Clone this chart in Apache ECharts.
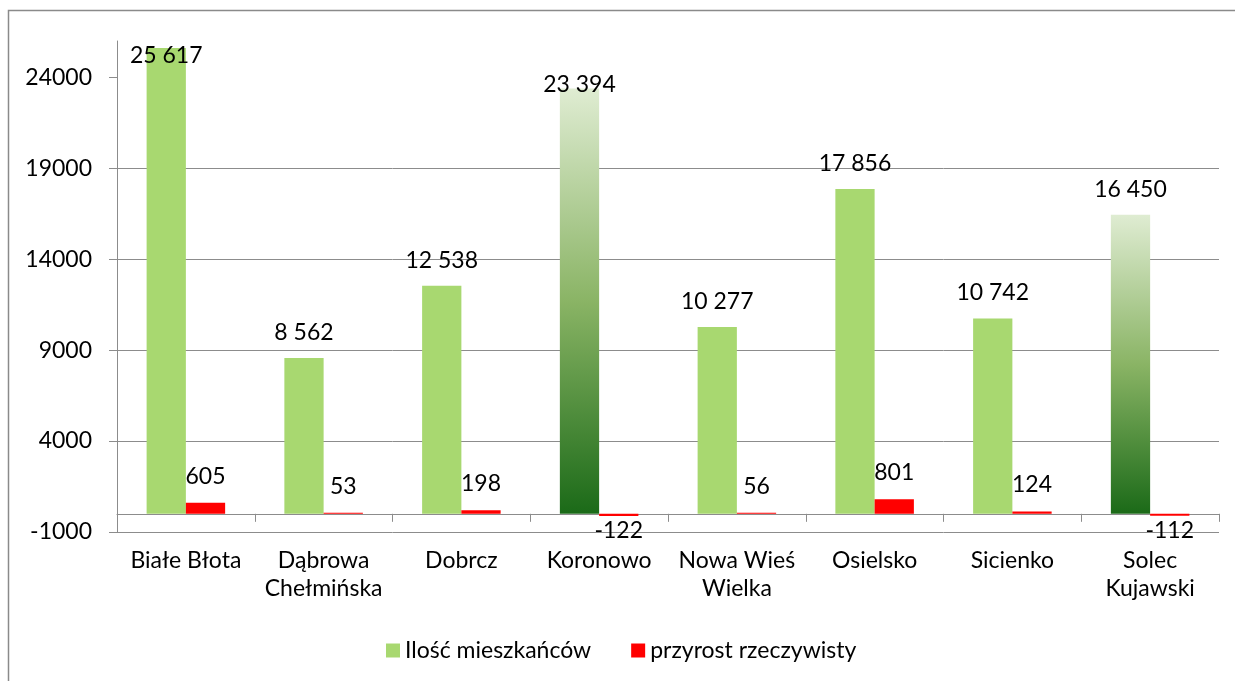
<!DOCTYPE html>
<html>
<head>
<meta charset="utf-8">
<script src="https://cdn.jsdelivr.net/npm/echarts@6/dist/echarts.min.js"></script>
<style>
  html, body { margin: 0; padding: 0; background: #fff; }
  #chart { width: 1235px; height: 681px; }
</style>
</head>
<body>
<div id="chart"></div>
<script>
// Gminy: population and natural increase
const categories = ['Białe Błota', 'Dąbrowa\nChełmińska', 'Dobrcz', 'Koronowo', 'Nowa Wieś\nWielka', 'Osielsko', 'Sicienko', 'Solec\nKujawski'];
const residents = [25617, 8562, 12538, 23394, 10277, 17856, 10742, 16450];
const naturalIncrease = [605, 53, 198, -122, 56, 801, 124, -112];
const yTicks = [-1000, 4000, 9000, 14000, 19000, 24000];
const seriesNames = ['Ilość mieszkańców', 'przyrost rzeczywisty'];

// Bars drawn with a vertical light-to-dark green fill
const gradientBars = ['Koronowo', 'Solec\nKujawski'];
// Labels that sit near the top edge of the plot
const labelTweaks = {
  'Białe Błota': { position: 'insideTop', distance: -4 },
  'Koronowo': { position: 'top', distance: -8 }
};

const FONT = 'Lato';
const FS = 23;
const GREEN = '#A8D870';
const RED = '#FF0000';
const AXIS = '#8c8c8c';

const fmt = v => String(v).replace(/\B(?=(\d{3})+(?!\d))/g, ' ');

const greenData = residents.map((v, i) => {
  const item = { value: v };
  if (gradientBars.includes(categories[i])) {
    item.itemStyle = {
      color: new echarts.graphic.LinearGradient(0, 0, 0, 1, [
        { offset: 0, color: '#DFECD2' },
        { offset: 0.5, color: '#8AB465' },
        { offset: 1, color: '#1B6A18' }
      ])
    };
  }
  if (labelTweaks[categories[i]]) item.label = labelTweaks[categories[i]];
  return item;
});

const redData = naturalIncrease.map(v => ({
  value: v,
  label: v < 0 ? { position: 'bottom', distance: 3 } : { position: 'top', distance: 15 }
}));

const chart = echarts.init(document.getElementById('chart'), null, { renderer: 'canvas' });
chart.setOption({
  animation: false,
  backgroundColor: '#fff',
  textStyle: { fontFamily: FONT },
  graphic: [{
    type: 'rect',
    shape: { x: 8.5, y: 10.5, width: 1400, height: 900 },
    style: { fill: 'none', stroke: '#8a8a8a', lineWidth: 1.5 },
    silent: true
  }],
  grid: { left: 117, right: 16, top: 41, bottom: 149 },
  legend: {
    data: seriesNames,
    left: 381,
    top: 634,
    icon: 'rect',
    itemWidth: 14,
    itemHeight: 14,
    itemGap: 40,
    textStyle: { fontFamily: FONT, fontSize: FS, color: '#000' }
  },
  xAxis: {
    type: 'category',
    data: categories,
    axisLine: { onZero: true, lineStyle: { color: AXIS, width: 1 } },
    axisTick: { show: true, length: 8, lineStyle: { color: AXIS } },
    axisLabel: {
      interval: 0,
      margin: 15,
      color: '#000',
      fontFamily: FONT,
      fontSize: FS,
      lineHeight: 28
    }
  },
  yAxis: {
    type: 'value',
    min: -1000,
    max: 26000,
    interval: 5000,
    axisLine: { show: true, lineStyle: { color: AXIS, width: 1 } },
    axisTick: { show: true, length: 8, customValues: yTicks, lineStyle: { color: AXIS } },
    axisLabel: {
      customValues: yTicks,
      margin: 25,
      color: '#000',
      fontFamily: FONT,
      fontSize: FS,
      formatter: v => String(v)
    },
    splitLine: { show: true, showMaxLine: false, showMinLine: true, lineStyle: { color: AXIS, width: 1 } }
  },
  series: [
    {
      name: seriesNames[0],
      type: 'bar',
      data: greenData,
      barGap: '0%',
      barCategoryGap: '43%',
      itemStyle: { color: GREEN },
      label: {
        show: true,
        position: 'top',
        distance: 14,
        color: '#000',
        fontFamily: FONT,
        fontSize: FS,
        formatter: p => fmt(p.value)
      }
    },
    {
      name: seriesNames[1],
      type: 'bar',
      data: redData,
      itemStyle: { color: RED },
      label: {
        show: true,
        color: '#000',
        fontFamily: FONT,
        fontSize: FS,
        formatter: p => fmt(p.value)
      }
    }
  ]
});
</script>
</body>
</html>
